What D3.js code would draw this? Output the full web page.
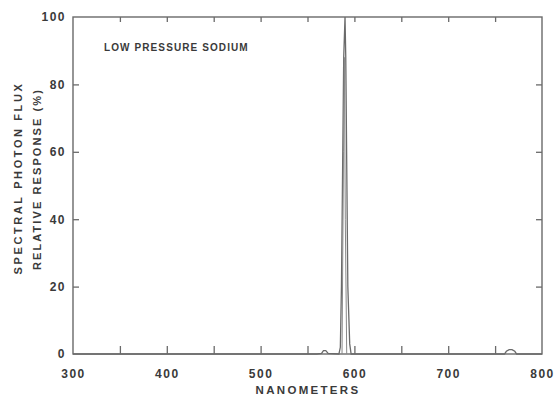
<!DOCTYPE html>
<html>
<head>
<meta charset="utf-8">
<script src="https://cdn.jsdelivr.net/npm/d3@7"></script>
<style>
  body { margin: 0; background: #fff; }
  text { font-family: "Liberation Sans", Arial, sans-serif; font-weight: bold; fill: #3a3a3a; }
</style>
</head>
<body>
<svg id="chart" width="555" height="400"></svg>
<script>
// spectrum (nm, % relative response)
var wavelength = [300, 560, 565, 567, 569.5, 572, 583.5, 585, 586.2, 588.6, 590, 590.8, 593, 595, 596.5, 760, 762, 765, 768, 771, 773, 800];
var response   = [0,   0,   0.2, 1,   1,     0.2, 0,     2,   20,    88,    100, 88,  20,    3,   0,     0,   0.8, 1.3, 1.3, 0.8, 0,   0];

// inner trace of the sodium doublet
var doubletNm  = [586.8, 588.4, 589.3, 590.3, 591.8];
var doubletVal = [0,     60,    88,    40,    0];

var xLabels = [300, 400, 500, 600, 700, 800];
var xTicks  = [350, 400, 450, 500, 550, 600, 650, 700, 750];
var yLabels = [0, 20, 40, 60, 80, 100];
var yTicks  = [20, 40, 60, 80];

// plot box (note: "top" is reserved on window, so use own names)
var boxL = 73, boxR = 542, boxT = 17, boxB = 354;
var ink = "#6a6a6a";

var svg = d3.select("#chart");
var x = d3.scaleLinear().domain([300, 800]).range([boxL, boxR]);
var y = d3.scaleLinear().domain([0, 100]).range([boxB, boxT]);

// frame
svg.append("rect")
  .attr("x", boxL).attr("y", boxT)
  .attr("width", boxR - boxL).attr("height", boxB - boxT)
  .attr("fill", "none").attr("stroke", ink).attr("stroke-width", 1.4);

function styleAxis(g) {
  g.select(".domain").remove();
  g.selectAll("line").attr("stroke", ink).attr("stroke-width", 1.3);
}

// inward ticks
svg.append("g").attr("transform", "translate(0," + boxB + ")")
  .call(d3.axisBottom(x).tickValues(xTicks).tickSize(-8).tickFormat(""))
  .call(styleAxis);
svg.append("g").attr("transform", "translate(0," + boxT + ")")
  .call(d3.axisTop(x).tickValues(xTicks).tickSize(-5).tickFormat(""))
  .call(styleAxis);
svg.append("g").attr("transform", "translate(" + boxL + ",0)")
  .call(d3.axisLeft(y).tickValues(yTicks).tickSize(-6).tickFormat(""))
  .call(styleAxis);
svg.append("g").attr("transform", "translate(" + boxR + ",0)")
  .call(d3.axisRight(y).tickValues(yTicks).tickSize(-6).tickFormat(""))
  .call(styleAxis);

// tick labels
var xl = svg.append("g").attr("transform", "translate(0," + (boxB + 12) + ")")
  .call(d3.axisBottom(x).tickValues(xLabels).tickSize(0).tickFormat(d3.format("d")));
xl.select(".domain").remove();
xl.selectAll("text").attr("font-size", 12).attr("letter-spacing", 1.5).attr("fill", "#3a3a3a")
  .attr("font-family", "Liberation Sans, Arial, sans-serif");

var yl = svg.append("g").attr("transform", "translate(" + (boxL - 4) + ",0)")
  .call(d3.axisLeft(y).tickValues(yLabels).tickSize(0).tickFormat(d3.format("d")));
yl.select(".domain").remove();
yl.selectAll("text").attr("font-size", 12).attr("letter-spacing", 1.5).attr("fill", "#3a3a3a")
  .attr("font-family", "Liberation Sans, Arial, sans-serif");

// spectrum
var line = d3.line().x(function(d) { return x(d[0]); }).y(function(d) { return y(d[1]); });
svg.append("path")
  .datum(d3.zip(wavelength, response))
  .attr("d", line)
  .attr("fill", "none").attr("stroke", ink).attr("stroke-width", 1.3);
svg.append("path")
  .datum(d3.zip(doubletNm, doubletVal))
  .attr("d", line)
  .attr("fill", "none").attr("stroke", "#888").attr("stroke-width", 1);

// labels
svg.append("text").attr("x", 104).attr("y", 51)
  .attr("font-size", 10).attr("letter-spacing", 1.1)
  .text("LOW PRESSURE SODIUM");

svg.append("text").attr("x", 308).attr("y", 394).attr("text-anchor", "middle")
  .attr("font-size", 11.5).attr("letter-spacing", 2.3)
  .text("NANOMETERS");

svg.append("text").attr("transform", "translate(22,178) rotate(-90)")
  .attr("text-anchor", "middle").attr("font-size", 11).attr("letter-spacing", 2.6)
  .text("SPECTRAL PHOTON FLUX");
svg.append("text").attr("transform", "translate(41,179) rotate(-90)")
  .attr("text-anchor", "middle").attr("font-size", 11).attr("letter-spacing", 2.1)
  .text("RELATIVE RESPONSE (%)");
</script>
</body>
</html>
